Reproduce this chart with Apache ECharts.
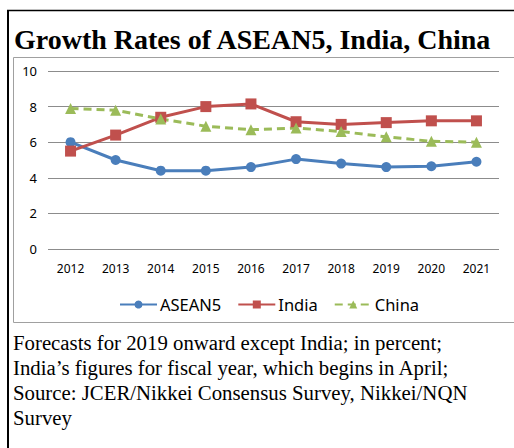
<!DOCTYPE html>
<html><head><meta charset="utf-8">
<script src="https://cdn.jsdelivr.net/npm/echarts@6/dist/echarts.min.js"></script>
<style>html,body{margin:0;padding:0;background:#fff}#c{width:514px;height:448px}</style>
</head><body><div id="c"></div>
<script>
const categories = ['2012','2013','2014','2015','2016','2017','2018','2019','2020','2021'];
const asean5 = [6.0, 5.0, 4.4, 4.4, 4.6, 5.05, 4.8, 4.6, 4.65, 4.9];
const india = [5.5, 6.4, 7.4, 8.0, 8.15, 7.15, 7.0, 7.1, 7.2, 7.2];
const china = [7.9, 7.8, 7.3, 6.9, 6.7, 6.8, 6.6, 6.3, 6.05, 6.0];
const yTicks = [0, 2, 4, 6, 8, 10];
const titleText = 'Growth Rates of ASEAN5, India, China';
const noteLines = [
  'Forecasts for 2019 onward except India; in percent;',
  'India\u2019s figures for fiscal year, which begins in April;',
  'Source: JCER/Nikkei Consensus Survey, Nikkei/NQN',
  'Survey'
];
const chart = echarts.init(document.getElementById('c'), null, {renderer: 'svg'});
const axisFont = '"Noto Sans", sans-serif';
chart.setOption({
  animation: false,
  backgroundColor: '#fff',
  title: {
    text: titleText, left: 9, top: 20,
    textStyle: {fontFamily: '"Liberation Serif", "Times New Roman", serif', fontWeight: 'bold', fontSize: 28, color: '#000'}
  },
  graphic: [
    {type: 'line', shape: {x1: 8, y1: 10, x2: 8, y2: 448}, style: {stroke: '#000', lineWidth: 2}},
    {type: 'line', shape: {x1: 7, y1: 10.5, x2: 514, y2: 10.5}, style: {stroke: '#000', lineWidth: 1.5}},
    {type: 'rect', shape: {x: 13.5, y: 57.5, width: 520, height: 265}, style: {fill: 'none', stroke: '#a0a0a0', lineWidth: 1}},
    ...noteLines.map((t, i) => ({
      type: 'text', left: 13, top: 332 + i * 25,
      style: {text: t, fontFamily: '"Liberation Serif", "Times New Roman", serif', fontSize: 20.8, fill: '#000'}
    }))
  ],
  grid: {left: 48, right: 15, top: 71, bottom: 199},
  legend: {
    data: ['ASEAN5', 'India', 'China'],
    top: 291, left: 114, itemGap: 16, itemWidth: 37, itemHeight: 10,
    textStyle: {fontFamily: axisFont, fontSize: 16.5, color: '#000', padding: [0, 0, 0, -2]}
  },
  xAxis: {
    type: 'category', data: categories, boundaryGap: true,
    axisLine: {show: false}, axisTick: {show: false},
    axisLabel: {fontFamily: axisFont, fontSize: 12, color: '#000', margin: 13}
  },
  yAxis: {
    type: 'value', min: yTicks[0], max: yTicks[yTicks.length - 1], interval: 2,
    axisLine: {show: false}, axisTick: {show: false},
    axisLabel: {fontFamily: axisFont, fontSize: 13, color: '#000', margin: 11},
    splitLine: {lineStyle: {color: '#8c8c8c', width: 1}}
  },
  series: [
    {name: 'ASEAN5', type: 'line', data: asean5, color: '#4a7ebb', symbol: 'circle', symbolSize: 10,
     lineStyle: {width: 3}, itemStyle: {color: '#4a7ebb'}},
    {name: 'India', type: 'line', data: india, color: '#c0504d', symbol: 'rect', symbolSize: 11,
     lineStyle: {width: 3}, itemStyle: {color: '#c0504d'}},
    {name: 'China', type: 'line', data: china, color: '#9bbb59', symbol: 'triangle', symbolSize: 11,
     lineStyle: {width: 3, type: [8, 5]}, itemStyle: {color: '#9bbb59'}}
  ]
});
</script></body></html>
